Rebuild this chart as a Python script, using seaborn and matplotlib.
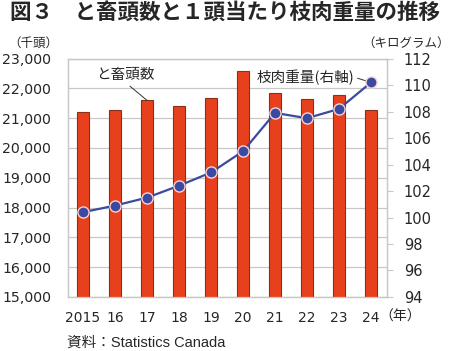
#と畜頭数と1頭当たり枝肉重量
import numpy as np
import pandas as pd
import seaborn as sns
import matplotlib.pyplot as plt

#データ
years = ['2015', '16', '17', '18', '19', '20', '21', '22', '23', '24']
heads = [21200, 21270, 21600, 21420, 21690, 22580, 21830, 21660, 21780, 21270]
weight = [100.4, 100.9, 101.5, 102.4, 103.4, 105.0, 107.9, 107.5, 108.2, 110.2]

df = pd.DataFrame({'year': years, 'heads': heads, 'weight': weight})
df['pos'] = np.arange(len(df))

sns.set_style('white')
plt.rcParams['font.family'] = ['DejaVu Sans', 'Noto Sans CJK JP']

fig = plt.figure(figsize=(4.5, 3.51), dpi=100)
ax = fig.add_axes([0.151, 0.154, 0.709, 0.679])

#棒グラフ（左軸）
sns.barplot(data=df, x='year', y='heads', ax=ax, color='#e8401c',
            edgecolor='#8a2f1c', linewidth=0.8, width=0.4, saturation=1, zorder=3)
ax.set_ylim(15000, 23000)
ax.set_yticks(range(15000, 23001, 1000))
ax.set_yticklabels([f'{v:,}' for v in range(15000, 23001, 1000)], fontsize=10.2)
ax.set_xlim(-0.47, 9.5)
ax.set_xlabel('')
ax.set_ylabel('')
ax.tick_params(axis='x', length=0, labelsize=10, pad=10)
ax.tick_params(axis='y', length=0, pad=12)
ax.grid(axis='y', color='#c8c8c8', linewidth=0.9, zorder=0)
ax.set_axisbelow(True)
for s in ax.spines.values():
    s.set_color('#c8c8c8')
    s.set_linewidth(0.9)

#折れ線（右軸）
ax2 = ax.twinx()
sns.lineplot(data=df, x='pos', y='weight', ax=ax2, color='#3b4aa0', linewidth=1.6,
             marker='o', markersize=8, markerfacecolor='#3b4aa0',
             markeredgecolor='#f4d4d8', markeredgewidth=1.0, zorder=4)
ax2.set_ylim(94, 112)
ax2.set_yticks(range(94, 113, 2))
ax2.set_yticklabels([str(v) for v in range(94, 113, 2)], fontsize=10.5)
ax2.set_ylabel('')
ax2.set_xlim(-0.47, 9.5)
ax2.tick_params(axis='y', length=4, color='#c8c8c8', pad=8)
for s in ax2.spines.values():
    s.set_color('#c8c8c8')
    s.set_linewidth(0.9)

#注記
jp = ['Noto Sans CJK JP']
ax.annotate('と畜頭数', xy=(2.0, heads[2]), xytext=(1.31, 22450),
            fontsize=10.5, family=jp, ha='center', va='center',
            arrowprops=dict(arrowstyle='-', color='#333333', lw=0.7,
                            relpos=(0.5, 0), shrinkA=1, shrinkB=0))
ax2.annotate('枝肉重量(右軸)', xy=(9.0, weight[9]), xytext=(6.95, 110.6),
             fontsize=10.5, family=jp, ha='center', va='center',
             arrowprops=dict(arrowstyle='-', color='#333333', lw=0.7,
                             relpos=(1, 0.5), shrinkA=0, shrinkB=4))

#タイトル・単位など
fig.text(0.5, 0.965, '図３　と畜頭数と１頭当たり枝肉重量の推移', fontsize=15.5,
         fontweight='bold', family=jp, ha='center', va='center')
fig.text(0.073, 0.877, '（千頭）', fontsize=9, family=jp, ha='center', va='center')
fig.text(0.999, 0.877, '（キログラム）', fontsize=9, family=jp, ha='right', va='center')
fig.text(0.843, 0.097, '（年）', fontsize=10, family=jp, ha='left', va='center')
fig.text(0.149, 0.023, '資料：Statistics Canada', fontsize=10.5,
         family=['Liberation Sans', 'Noto Sans CJK JP'], ha='left', va='center')

fig.savefig('out.png', dpi=100)
